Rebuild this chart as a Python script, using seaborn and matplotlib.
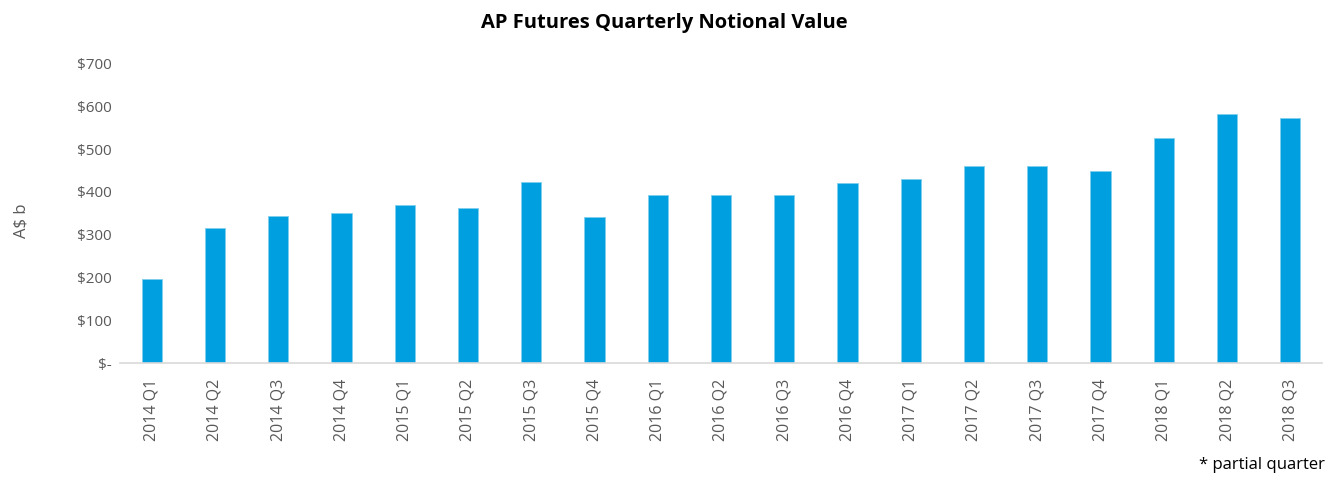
import matplotlib
matplotlib.use("Agg")
import matplotlib.pyplot as plt
import seaborn as sns
import pandas as pd

# quarterly notional value, A$ billions
quarters = ['2014 Q1', '2014 Q2', '2014 Q3', '2014 Q4',
            '2015 Q1', '2015 Q2', '2015 Q3', '2015 Q4',
            '2016 Q1', '2016 Q2', '2016 Q3', '2016 Q4',
            '2017 Q1', '2017 Q2', '2017 Q3', '2017 Q4',
            '2018 Q1', '2018 Q2', '2018 Q3']
notional = [198, 316, 343, 352,
            369, 362, 423, 342,
            393, 393, 392, 421,
            430, 461, 460, 450,
            526, 582, 572]
y_ticks = [0, 100, 200, 300, 400, 500, 600, 700]

df = pd.DataFrame({'quarter': quarters, 'notional': notional})

sns.set_theme(style='white')
plt.rcParams['font.family'] = ['Open Sans', 'DejaVu Sans']

grey = '#595959'
fig = plt.figure(figsize=(13.28, 4.8), dpi=100)
ax = fig.add_axes([0.0904, 0.243, 0.905, 0.625])

sns.barplot(data=df, x='quarter', y='notional', color='#009FDF',
            width=0.32, saturation=1, edgecolor='#7FCFEF', linewidth=0.6, ax=ax)

ax.set_ylim(0, 700)
ax.set_xlim(-0.5, len(quarters) - 0.5)
ax.set_yticks(y_ticks)
ax.set_yticklabels(['$-' if v == 0 else f'${v}' for v in y_ticks])
ax.tick_params(axis='y', length=0, pad=6, labelsize=11, labelcolor=grey)
ax.tick_params(axis='x', length=0, pad=11, labelsize=11.5, labelcolor=grey, rotation=90)

for side in ['top', 'right', 'left']:
    ax.spines[side].set_visible(False)
ax.spines['bottom'].set_color('#D9D9D9')
ax.spines['bottom'].set_linewidth(1.2)

ax.set_xlabel('')
ax.set_ylabel('')
fig.text(0.016, 0.54, 'A$ b', rotation=90, ha='center', va='center',
         fontsize=12, color=grey)
fig.text(0.5, 0.953, 'AP Futures Quarterly Notional Value', ha='center', va='center',
         fontsize=14.5, fontweight='bold', color='black')
fig.text(0.998, 0.015, '* partial quarter', ha='right', va='bottom',
         fontsize=12, color='black')

fig.savefig('out.png', dpi=100)
